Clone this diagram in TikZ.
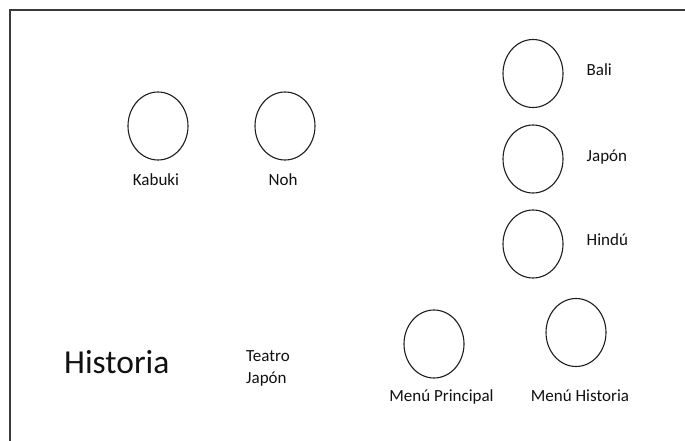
\documentclass[tikz,border=0pt]{standalone}
\usepackage{fontspec}
\setmainfont{Carlito}
\usetikzlibrary{shapes.geometric}
\definecolor{Marco}{HTML}{3A3A3A}
\definecolor{Trazo}{HTML}{1E1E1E}
\definecolor{Texto}{HTML}{111111}

\begin{document}
\begin{tikzpicture}[x=1pt,y=-1pt,
  circulo/.style={draw=Trazo,line width=1.1pt,ellipse,minimum width=60pt,minimum height=68pt,inner sep=0pt},
  etiqueta/.style={anchor=base,font=\fontsize{17}{20}\selectfont,text=Texto,inner sep=0pt},
  every node/.style={text=Texto}]
\useasboundingbox (0,0) rectangle (685,441);
\fill[white] (0,0) rectangle (685,441);
\coordinate (esq) at (10,10);\coordinate (der) at (685,10);\coordinate (abajo) at (10,441);
\draw[Marco,line width=1.7pt] (der)--(esq)--(abajo);
\node[circulo] (kabuki) at (158,126){};\node[circulo] (noh) at (285,126){};
\node[etiqueta] (lkabuki) at (156,185){Kabuki};\node[etiqueta] (lnoh) at (283,185){Noh};
\node[circulo] (bali) at (533,73.5){};\node[circulo] (japon) at (533,159){};\node[circulo] (hindu) at (533,244){};
\node[etiqueta,anchor=base west] (lbali) at (586.5,76){Bali};\node[etiqueta,anchor=base west] (ljapon) at (586.5,161.5){Japón};\node[etiqueta,anchor=base west] (lhindu) at (586.5,245.5){Hindú};
\node[anchor=base west,font=\fontsize{33.5}{36}\selectfont,inner sep=0pt] (historia) at (64,373){Historia};
\node[etiqueta,anchor=base west] (teatro) at (246,361){Teatro};\node[etiqueta,anchor=base west] (tjapon) at (246,383.5){Japón};
\node[circulo] (principal) at (434,344){};\node[circulo] (menuhist) at (576,332.5){};
\node[etiqueta] (lprincipal) at (441.5,401.5){Menú Principal};\node[etiqueta] (lmenuhist) at (580,401.5){Menú Historia};
\end{tikzpicture}
\end{document}
